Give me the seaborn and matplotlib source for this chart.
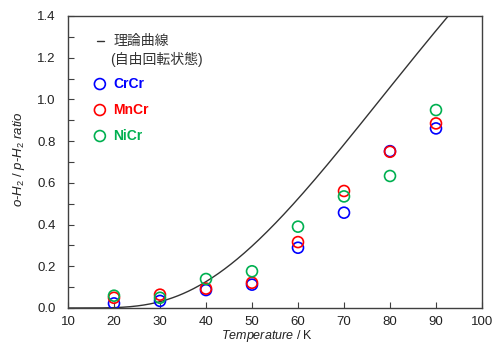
import numpy as np
import pandas as pd
import matplotlib
matplotlib.use("Agg")
import matplotlib.pyplot as plt
from matplotlib.ticker import MultipleLocator, FormatStrFormatter
import seaborn as sns

# Measured ortho/para ratios
temperature = [20, 30, 40, 50, 60, 70, 80, 90]
crcr = [0.022, 0.034, 0.086, 0.112, 0.289, 0.457, 0.752, 0.861]
mncr = [0.049, 0.064, 0.093, 0.121, 0.316, 0.561, 0.749, 0.885]
nicr = [0.059, 0.049, 0.139, 0.176, 0.390, 0.535, 0.633, 0.949]

series_names = ["CrCr", "MnCr", "NiCr"]
series_colors = ["#0000FF", "#FF0000", "#00B050"]

# Equilibrium o/p ratio of a free rotor, H2 rotational temperature
theta_rot = 85.3
t_curve = np.linspace(10, 100, 400)
j = np.arange(0, 12)
weights = (2 * j + 1)[:, None] * np.exp(-(j * (j + 1))[:, None] * theta_rot / t_curve[None, :])
ratio_curve = 3 * weights[1::2].sum(axis=0) / weights[0::2].sum(axis=0)

sns.set_style("white")
plt.rcParams["font.family"] = ["Liberation Sans", "Noto Sans CJK JP", "DejaVu Sans"]
plt.rcParams["mathtext.fontset"] = "custom"
plt.rcParams["mathtext.rm"] = "Liberation Sans"
plt.rcParams["mathtext.it"] = "Liberation Sans:italic"

fig = plt.figure(figsize=(4.93, 3.49), dpi=100)
ax = fig.add_axes([68 / 493, 41 / 349, 414 / 493, 292 / 349])

sns.lineplot(x=t_curve, y=ratio_curve, ax=ax, color="#333333", linewidth=1.0)

df = pd.DataFrame({"T": temperature, "CrCr": crcr, "MnCr": mncr, "NiCr": nicr})
for name, col in zip(series_names, series_colors):
    sns.scatterplot(data=df, x="T", y=name, ax=ax, marker="o", s=62,
                    facecolors="none", edgecolors=col, linewidths=1.2, zorder=3)

ax.set_xlim(10, 100)
ax.set_ylim(0, 1.4)
ax.xaxis.set_major_locator(MultipleLocator(10))
ax.yaxis.set_major_locator(MultipleLocator(0.2))
ax.yaxis.set_minor_locator(MultipleLocator(0.1))
ax.yaxis.set_major_formatter(FormatStrFormatter("%.1f"))
ax.tick_params(axis="both", which="both", direction="in", length=4, width=0.8,
               color="#404040", labelsize=9.5, labelcolor="#222222")
ax.tick_params(axis="x", which="major", bottom=True, pad=6)
ax.tick_params(axis="y", which="both", left=True, pad=9)
for sp in ax.spines.values():
    sp.set_color("#404040")
    sp.set_linewidth(1.0)

ax.set_xlabel(r"$Temperature$ / K", fontsize=9, color="#222222")
ax.set_ylabel(r"$o$-$H_2$ / $p$-$H_2$ $ratio$", fontsize=9.5, color="#222222")
ax.xaxis.set_label_coords(0.482, -0.068)
ax.yaxis.set_label_coords(-0.1, 0.51)

# Legend drawn by hand in axes coordinates
tr = ax.transAxes
ax.plot([0.070, 0.087], [0.914, 0.914], color="#333333", linewidth=1.0,
        transform=tr, clip_on=False)
ax.text(0.109, 0.914, "理論曲線", transform=tr, fontsize=10, color="#333333",
        va="center", ha="left")
ax.text(0.101, 0.853, "(自由回転状態)", transform=tr, fontsize=10, color="#333333",
        va="center", ha="left")
for name, col, yy in zip(series_names, series_colors, [0.767, 0.678, 0.589]):
    ax.scatter([0.077], [yy], s=62, facecolors="none", edgecolors=col,
               linewidths=1.2, transform=tr, clip_on=False)
    ax.text(0.109, yy, name, transform=tr, fontsize=10, fontweight="bold",
            color=col, va="center", ha="left")

fig.savefig("out.png", dpi=100)
